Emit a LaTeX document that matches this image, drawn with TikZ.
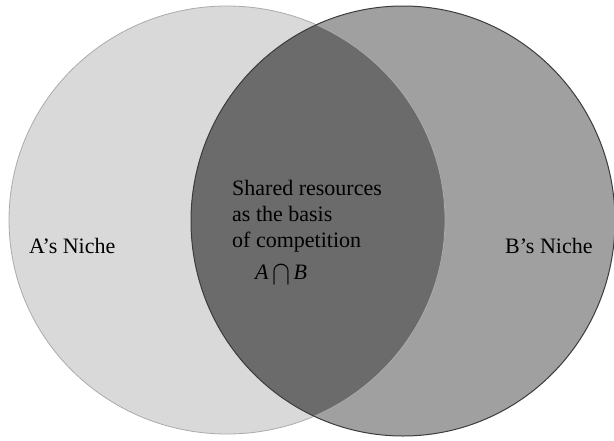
\documentclass[tikz,border=0pt]{standalone}
\usepackage{fontspec}
\usepackage{graphicx}
\setmainfont{Liberation Serif}
\definecolor{lightA}{HTML}{D9D9D9}
\definecolor{midB}{HTML}{A0A0A0}
\definecolor{lensC}{HTML}{6B6B6B}
\definecolor{edgeA}{HTML}{ABABAB}
\definecolor{edgeB}{HTML}{3C3C3C}
\begin{document}
\begin{tikzpicture}[x=1pt,y=-1pt,
  lbl/.style={font=\fontsize{22}{26}\selectfont, text=black, inner sep=0pt, anchor=base west}]
\useasboundingbox (0,0) rectangle (614,440);
\fill[white] (0,0) rectangle (614,440);
% circles
\fill[lightA] (227,220) ellipse [x radius=218, y radius=214];
\fill[midB] (403,221) ellipse [x radius=212, y radius=215];
\begin{scope}
  \clip (227,220) ellipse [x radius=218, y radius=214];
  \fill[lensC] (403,221) ellipse [x radius=212, y radius=215];
\end{scope}
\draw[edgeA, line width=0.8pt] (227,220) ellipse [x radius=218, y radius=214];
\draw[edgeB, line width=1pt] (403,221) ellipse [x radius=212, y radius=215];
% labels
\node[lbl] (an) at (29,253) {A’s Niche};
\node[lbl] (bn) at (505,253) {B’s Niche};
\node[lbl] (s1) at (232,195) {Shared resources};
\node[lbl] (s2) at (232,221) {as the basis};
\node[lbl] (s3) at (232,247) {of competition};
\node[lbl] (ab) at (255,279) {\textit{A}\hspace{4pt}\raisebox{-5pt}{\scalebox{1.3}[1.65]{$\cap$}}\hspace{3pt}\textit{B}};
\end{tikzpicture}
\end{document}
